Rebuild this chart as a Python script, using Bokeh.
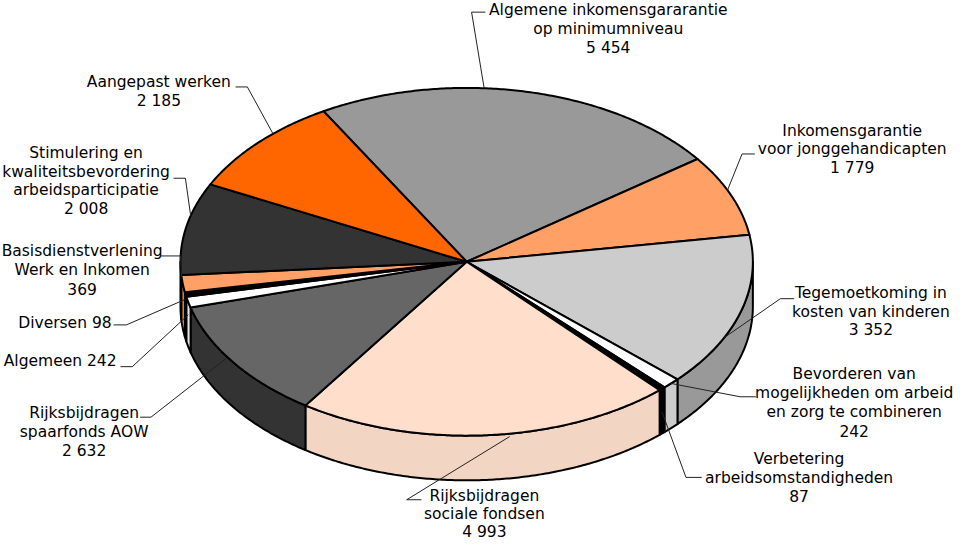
import numpy as np
from bokeh.plotting import figure
from bokeh.models import ColumnDataSource, Range1d
from bokeh.core.properties import value
from bokeh.embed import file_html
from bokeh.resources import INLINE

# ---------------- data ----------------
categories = [
    "Algemene inkomensgararantie op minimumniveau",
    "Inkomensgarantie voor jonggehandicapten",
    "Tegemoetkoming in kosten van kinderen",
    "Bevorderen van mogelijkheden om arbeid en zorg te combineren",
    "Verbetering arbeidsomstandigheden",
    "Rijksbijdragen sociale fondsen",
    "Rijksbijdragen spaarfonds AOW",
    "Algemeen",
    "Diversen",
    "Basisdienstverlening Werk en Inkomen",
    "Stimulering en kwaliteitsbevordering arbeidsparticipatie",
    "Aangepast werken",
]
values = [5454, 1779, 3352, 242, 87, 4993, 2632, 242, 98, 369, 2008, 2185]
name_lines = [
    ["Algemene inkomensgararantie", "op minimumniveau"],
    ["Inkomensgarantie", "voor jonggehandicapten"],
    ["Tegemoetkoming in", "kosten van kinderen"],
    ["Bevorderen van", "mogelijkheden om arbeid", "en zorg te combineren"],
    ["Verbetering", "arbeidsomstandigheden"],
    ["Rijksbijdragen", "sociale fondsen"],
    ["Rijksbijdragen", "spaarfonds AOW"],
    ["Algemeen"],
    ["Diversen"],
    ["Basisdienstverlening", "Werk en Inkomen"],
    ["Stimulering en", "kwaliteitsbevordering", "arbeidsparticipatie"],
    ["Aangepast werken"],
]
inline_value = [False, False, False, False, False, False, False, True, True, False, False, False]

# ---------------- style ----------------
top_colors = ["#999999", "#FFA066", "#CCCCCC", "#FFFFFF", "#000000", "#FFDFCC",
              "#666666", "#FFFFFF", "#000000", "#FFA066", "#333333", "#FF6600"]
side_colors = ["#7A7A7A", "#E08A55", "#999999", "#CCCCCC", "#000000", "#F3D5C4",
               "#333333", "#E6E6E6", "#000000", "#EE9050", "#1A1A1A", "#D95500"]

# ---------------- layout ----------------
cx, cy, rx, ry, depth = 474.0, 269.0, 291.0, 179.0, 46.0
start_angle = 120.0
line_step = 19.3
label_x = [618, 866, 885, 868, 812, 492, 85, 118, 113, 83, 87, 161]
label_y = [10, 134, 301, 385, 472, 510, 425, 371, 332, 258, 157, 84]
label_step = [line_step] * 5 + [18.8] + [line_step] * 6
label_align = ["center"] * 7 + ["right", "right"] + ["center"] * 3
anchor_t = [0.40, 0.437, 0.676, 0.5, 0.5, 0.44, 0.564, 0.5, 0.5, 0.9, 0.64, 0.625]
anchor_h = [0, 0, 0, 0, 24, 3, 2, 13, 5, 0, 0, 0]
elbow = [(479, 12), (754, 158), (793, 307), (752, 408), (697, 491), (413, 514),
         (153, 429), (134, 377), (128, 334), (183, 263), (188, 183), (251, 89)]
line_end = [(493, 12), (767, 158), (807, 307), (768, 408), (713, 491), (428, 514),
            (142, 429), (122, 377), (115, 334), (163, 263), (176, 183), (239, 89)]

FONT = "DejaVu Sans"
FONT_SIZE = "15.5px"

# ---------------- geometry ----------------
total = float(sum(values))
spans = [v / total * 360.0 for v in values]
th_start = []
th_end = []
a = start_angle
for s in spans:
    th_start.append(a)
    th_end.append(a - s)
    a -= s


def pt(th_deg, h=0.0):
    t = np.radians(th_deg)
    return cx + rx * np.cos(t), cy - ry * np.sin(t) + h


def arc(hi, lo, h=0.0):
    n = max(3, int(abs(hi - lo) * 2) + 2)
    th = np.linspace(hi, lo, n)
    x, y = pt(th, h)
    return list(x), list(y)


# sides (front half: angles between -180 and 0)
sx, sy, sc = [], [], []
for i in range(len(values)):
    hi = min(th_start[i], 0.0)
    lo = max(th_end[i], -180.0)
    if hi > lo:
        ax, ay = arc(hi, lo)
        bx, by = arc(hi, lo, depth)
        sx.append(ax + bx[::-1])
        sy.append(ay + by[::-1])
        sc.append(side_colors[i])

# top faces
tx, ty = [], []
for i in range(len(values)):
    ax, ay = arc(th_start[i], th_end[i])
    tx.append([cx] + ax)
    ty.append([cy] + ay)

p = figure(width=953, height=541, x_range=Range1d(0, 969), y_range=Range1d(557, 0),
           output_backend="svg", toolbar_location=None, min_border=0,
           x_axis_location=None, y_axis_location=None)
p.grid.visible = False
p.outline_line_color = None
p.background_fill_color = "white"

p.patches("xs", "ys", source=ColumnDataSource(dict(xs=sx, ys=sy, c=sc)),
          fill_color="c", line_color="black", line_width=2, line_join="round")
p.patches("xs", "ys", source=ColumnDataSource(dict(xs=tx, ys=ty, c=top_colors, name=categories)),
          fill_color="c", line_color="black", line_width=2, line_join="round")

# leader lines
lx, ly = [], []
for i in range(len(values)):
    th = th_start[i] - anchor_t[i] * spans[i]
    ax0, ay0 = pt(th, anchor_h[i])
    lx.append([float(ax0), elbow[i][0], line_end[i][0]])
    ly.append([float(ay0), elbow[i][1], line_end[i][1]])
p.multi_line(lx, ly, line_color="#222222", line_width=1)

# labels
val_str = [f"{v:,}".replace(",", " ") for v in values]
for align in ["center", "right"]:
    xs_, ys_, ts_ = [], [], []
    for i in range(len(values)):
        if label_align[i] != align:
            continue
        if inline_value[i]:
            lines = [name_lines[i][0] + " " + val_str[i]]
        else:
            lines = name_lines[i] + [val_str[i]]
        for k, ln in enumerate(lines):
            xs_.append(label_x[i])
            ys_.append(label_y[i] + k * label_step[i])
            ts_.append(ln)
    p.text(xs_, ys_, text=ts_, text_align=align, text_baseline="middle",
           text_font=value(FONT), text_font_size=FONT_SIZE, text_color="black")

open("out.html", "w").write(file_html(p, INLINE))
